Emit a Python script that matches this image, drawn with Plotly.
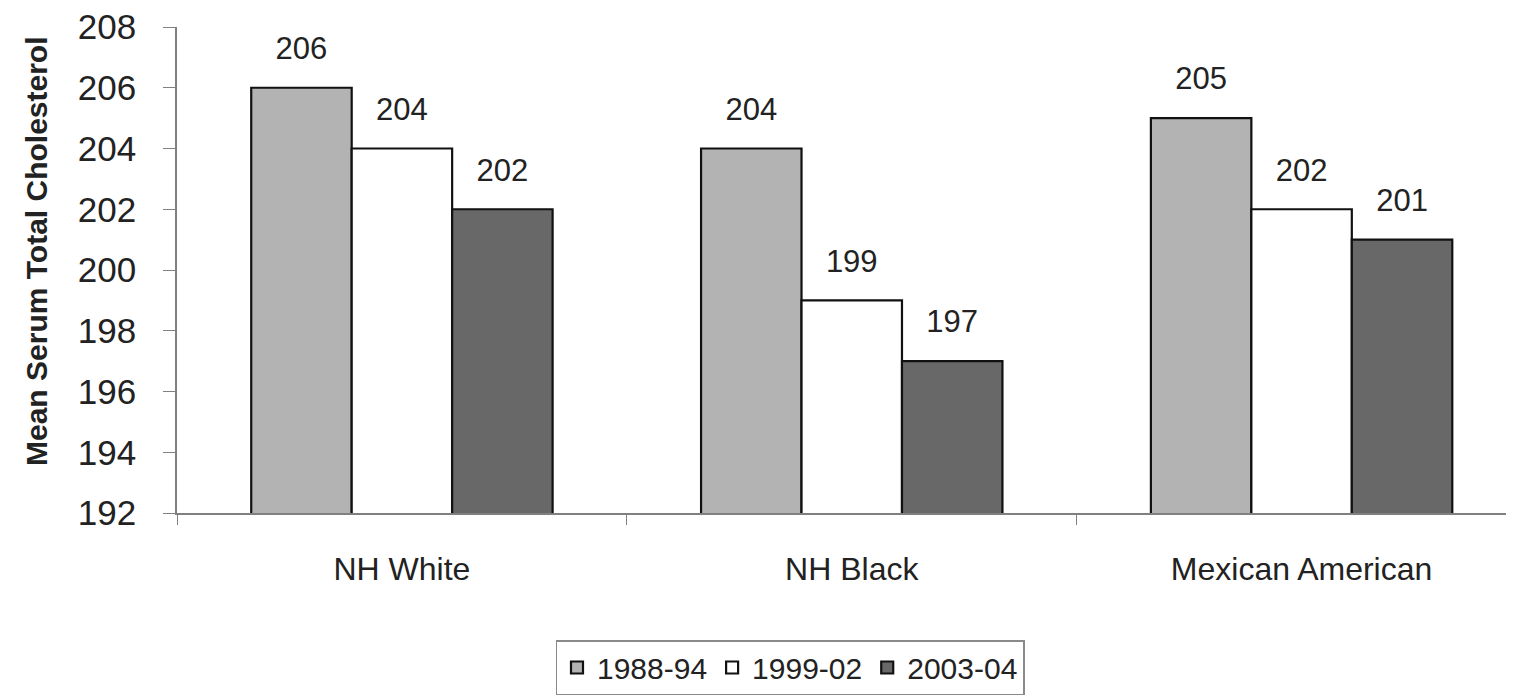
import plotly.graph_objects as go

categories = ["NH White", "NH Black", "Mexican American"]
periods = ["1988-94", "1999-02", "2003-04"]
values_1988_94 = [206, 204, 205]
values_1999_02 = [204, 199, 202]
values_2003_04 = [202, 197, 201]
y_ticks = [192, 194, 196, 198, 200, 202, 204, 206, 208]

series = [values_1988_94, values_1999_02, values_2003_04]
colors = ["#b3b3b3", "#ffffff", "#686868"]

REG = "Liberation Sans, Arial, sans-serif"

fig = go.Figure()
for i, (name, vals, col) in enumerate(zip(periods, series, colors)):
    fig.add_trace(go.Bar(
        x=categories, y=vals, name=name, offsetgroup=str(i),
        marker=dict(color=col, line=dict(color="#111111", width=2.2)),
        showlegend=True,
    ))
for i, (name, vals) in enumerate(zip(periods, series)):
    fig.add_trace(go.Scatter(
        x=categories, y=vals, mode="markers+text", offsetgroup=str(i),
        text=[str(v) for v in vals], textposition="top center",
        textfont=dict(family=REG, size=31, color="#222222"),
        marker=dict(size=32, color="rgba(0,0,0,0)"),
        showlegend=False, hoverinfo="skip", cliponaxis=False,
    ))

# the page body adds an 8px offset, so layout is expressed in figure coords
OFF = 8
W, H = 1514, 698
L, R, T = 177 - OFF, 0, 27 - OFF
ph = 486
B = H - T - ph
pw = W - L - R

fig.update_layout(
    width=W, height=H,
    margin=dict(l=L, r=R, t=T, b=B, autoexpand=False),
    barmode="group", bargap=0.33, bargroupgap=0,
    scattermode="group", scattergap=0.33,
    plot_bgcolor="white", paper_bgcolor="white",
    font=dict(family=REG, color="#222222"),
    legend=dict(
        orientation="h", x=(790 - OFF - L) / pw, xanchor="center",
        y=(T + ph - (640 - OFF)) / ph, yanchor="top",
        font=dict(family=REG, size=30, color="#222222"),
        bordercolor="#8a8a8a", borderwidth=1.5,
        itemwidth=30, tracegroupgap=0,
    ),
    annotations=[dict(
        text="<b>Mean Serum Total Cholesterol</b>", textangle=-90,
        xref="paper", yref="paper", x=(36 - OFF - L) / pw,
        y=(T + ph - (251 - OFF)) / ph,
        xanchor="center", yanchor="middle", showarrow=False,
        font=dict(family=REG, size=30, color="#222222"),
    )],
)
fig.update_xaxes(
    range=[-0.5, 2.49], showline=True, linecolor="#808080", linewidth=1.5,
    ticks="outside", tickson="boundaries", ticklen=10, tickcolor="#808080",
    tickfont=dict(family=REG, size=32, color="#222222"),
    ticklabelstandoff=27, showgrid=False, zeroline=False,
)
fig.update_yaxes(
    range=[192, 208], tickvals=y_ticks, showline=True, linecolor="#808080",
    linewidth=1.5, ticks="outside", ticklen=12, tickcolor="#808080",
    tickfont=dict(family=REG, size=35, color="#222222"),
    ticklabelstandoff=20, ticklabeloverflow="allow",
    showgrid=False, zeroline=False,
)

fig.write_html("out.html")
